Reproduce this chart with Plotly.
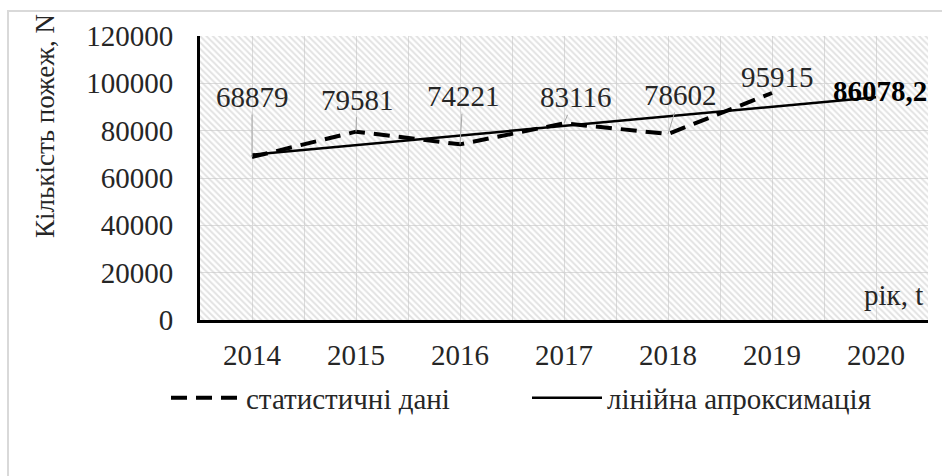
import plotly.graph_objects as go

years = [2014, 2015, 2016, 2017, 2018, 2019]
fires = [68879, 79581, 74221, 83116, 78602, 95915]
trend_years = [2014, 2020]
trend_vals = [69900, 94100]
year_labels = ["2014", "2015", "2016", "2017", "2018", "2019", "2020"]
label_offsets = [(0, -60), (1, -32), (3, -48), (11, -26), (12, -39), None]
forecast_text = "86078,2"

FONT = "Times New Roman, Liberation Serif, serif"
TXT = "#262626"
FS = 29

fig = go.Figure()

# hatched plot-area background
fig.add_trace(go.Scatter(
    x=[2013.5, 2020.5], y=[120000, 120000], fill="tozeroy", mode="none",
    fillcolor="rgba(0,0,0,0)",
    fillpattern=dict(shape="\\", fgcolor="#c6c6c6", size=4.5, solidity=0.45),
    showlegend=False, hoverinfo="skip"))

fig.add_trace(go.Scatter(
    x=years, y=fires, mode="lines", name="статистичні дані",
    line=dict(color="black", width=4, dash="16px,9px")))

fig.add_trace(go.Scatter(
    x=trend_years, y=trend_vals, mode="lines", name="лінійна апроксимація",
    line=dict(color="black", width=2.5)))

annotations = []
for yr, v, off in zip(years, fires, label_offsets):
    if off is not None:
        annotations.append(dict(
            x=yr, y=v, xref="x", yref="y", text=f"{v}",
            showarrow=True, arrowhead=0, arrowwidth=1, arrowcolor="#a6a6a6",
            ax=off[0], ay=off[1], standoff=0,
            font=dict(family=FONT, size=FS, color=TXT)))
    else:
        annotations.append(dict(
            x=yr, y=v, xref="x", yref="y", text=f"{v}", showarrow=False,
            xshift=5, yshift=16,
            font=dict(family=FONT, size=FS, color=TXT)))

annotations.append(dict(
    x=trend_years[-1], y=trend_vals[-1], xref="x", yref="y",
    text="<b>" + forecast_text + "</b>", showarrow=False,
    xshift=4, yshift=6, font=dict(family=FONT, size=FS, color="black")))

annotations.append(dict(
    x=(925 - 200) / 728, y=(320 - 295) / 284, xref="paper", yref="paper",
    xanchor="right", yanchor="middle", text="рік, t", showarrow=False,
    font=dict(family=FONT, size=FS, color=TXT)))

annotations.append(dict(
    x=(45 - 200) / 728, y=(320 - 126) / 284, xref="paper", yref="paper",
    xanchor="center", yanchor="middle", text="Кількість пожеж, N",
    textangle=-90, showarrow=False,
    font=dict(family=FONT, size=27, color=TXT)))

tickvals = [2013.5 + 0.5 * i for i in range(15)]
ticktext = []
for i in range(15):
    ticktext.append(year_labels[(i - 1) // 2] if i % 2 == 1 else "")

fig.update_layout(
    width=942, height=476,
    margin=dict(l=200, r=14, t=36, b=156),
    paper_bgcolor="white", plot_bgcolor="white",
    font=dict(family=FONT, size=FS, color=TXT),
    annotations=annotations,
    showlegend=True,
    legend=dict(orientation="h", x=(166 - 200) / 728, xanchor="left",
                y=(320 - 398) / 284, yanchor="middle",
                font=dict(family=FONT, size=FS, color=TXT),
                bgcolor="rgba(0,0,0,0)", entrywidth=276, itemwidth=70),
    shapes=[dict(type="rect", xref="paper", yref="paper",
                 x0=(8 - 200) / 728, x1=(950 - 200) / 728,
                 y0=(320 - 490) / 284, y1=(320 - 11) / 284,
                 line=dict(color="#d9d9d9", width=2), fillcolor="rgba(0,0,0,0)",
                 layer="below")],
)

fig.update_xaxes(range=[2013.5, 2020.5], tickmode="array", tickvals=tickvals,
                 ticktext=ticktext, showgrid=True, gridcolor="#dcdcdc", gridwidth=1,
                 showline=True, linecolor="black", linewidth=3, zeroline=False,
                 ticks="outside", ticklen=7, tickcolor="rgba(0,0,0,0)",
                 tickfont=dict(family=FONT, size=FS, color=TXT))
fig.update_yaxes(range=[0, 120000], dtick=20000, showgrid=True, gridcolor="#dcdcdc",
                 gridwidth=1, showline=True, linecolor="black", linewidth=3,
                 zeroline=False, ticks="outside", ticklen=18,
                 tickcolor="rgba(0,0,0,0)", tickformat="d",
                 tickfont=dict(family=FONT, size=FS, color=TXT))

fig.write_html("out.html")
